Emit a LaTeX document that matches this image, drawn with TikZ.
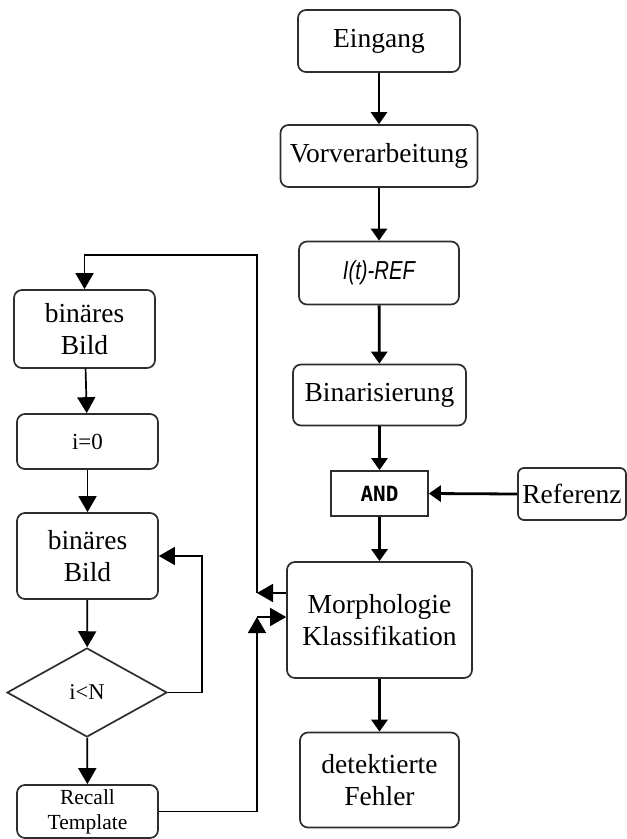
\documentclass[tikz,border=0pt]{standalone}
\usepackage{fontspec}
\setmainfont{Liberation Serif}
\newfontfamily\andfont{DejaVu Sans Mono}
\newfontfamily\reffont[FakeStretch=0.78]{Liberation Sans}
\usetikzlibrary{arrows.meta,shapes.geometric}
\definecolor{boxgray}{RGB}{45,45,45}

\begin{document}
\begin{tikzpicture}[x=1pt,y=-1pt,
    box/.style={draw=boxgray,line width=1.7pt,rounded corners=8pt,inner sep=0pt,
                align=center,font=\fontsize{27.5}{32}\selectfont},
    smallbox/.style={box,font=\fontsize{21.5}{25}\selectfont},
    deci/.style={draw=boxgray,line width=1.7pt,diamond,inner sep=0pt,
                 font=\fontsize{22.5}{26}\selectfont},
    mainarr/.style={line width=2.8pt,-{Triangle[length=12pt,width=16pt]}},
    sidearr/.style={line width=1.7pt,-{Triangle[length=16pt,width=18pt]}}]

    \useasboundingbox (0,0) rectangle (627,839);

    % Hauptkette
    \node[box,minimum width=162,minimum height=62] (eingang) at (379,41) {Eingang};
    \node[box,minimum width=197,minimum height=62] (vorv) at (379,156) {Vorverarbeitung};
    \node[box,minimum width=160,minimum height=63,
          font=\reffont\itshape\fontsize{26}{30}\selectfont] (iref) at (379,273) {I(t)-REF};
    \node[box,minimum width=173,minimum height=61] (binar) at (379.5,395) {Binarisierung};
    \node[draw=boxgray,line width=1.7pt,inner sep=0pt,minimum width=97,minimum height=45,
          font=\andfont\bfseries\fontsize{21}{24}\selectfont] (and) at (379.5,493.5) {AND};
    \node[box,rounded corners=6pt,minimum width=108,minimum height=52] (referenz) at (572,494) {Referenz};
    \node[box,minimum width=185,minimum height=116] (morph) at (379.5,620) {Morphologie\\Klassifikation};
    \node[box,minimum width=159,minimum height=95] (fehler) at (379.5,780) {detektierte\\Fehler};

    \draw[mainarr] (eingang) -- (vorv);
    \draw[mainarr] (vorv) -- (iref);
    \draw[mainarr] (iref) -- (binar);
    \draw[mainarr] (binar) -- (and);
    \draw[mainarr] (referenz.west) -- (and.east);
    \draw[mainarr] (and) -- (morph);
    \draw[mainarr] (morph) -- (fehler);

    % Schleife links
    \node[box,minimum width=141,minimum height=78] (bild1) at (84.5,329) {binäres\\Bild};
    \node[smallbox,font=\fontsize{23}{26}\selectfont,minimum width=141,minimum height=55] (inull) at (87.5,441.5) {i=0};
    \node[box,minimum width=141,minimum height=86] (bild2) at (87.5,556) {binäres\\Bild};
    \node[deci,minimum width=160,minimum height=89] (ikleiner) at (87,692.5) {i<N};
    \node[smallbox,minimum width=141,minimum height=53] (recall) at (87.5,811.5) {Recall\\Template};

    \draw[sidearr] (bild1) -- (inull);
    \draw[sidearr] (inull) -- (bild2);
    \draw[sidearr] (bild2) -- (ikleiner);
    \draw[sidearr] (ikleiner) -- (recall);
    \coordinate (lp) at (202,556);
    \draw[sidearr] (ikleiner.east) -| (lp) -- (bild2.east);

    % Rueckfuehrung
    \coordinate (fb) at (257,593);
    \coordinate (oben) at (257,255);
    \draw[sidearr] (morph.west |- fb) -- (fb);
    \draw[sidearr] (fb) -- (oben) -| (bild1.north);
    \coordinate (rc) at (257,617);
    \draw[sidearr] (recall.east) -| (rc);
    \draw[sidearr] (rc) -- (morph.west |- rc);
\end{tikzpicture}
\end{document}
